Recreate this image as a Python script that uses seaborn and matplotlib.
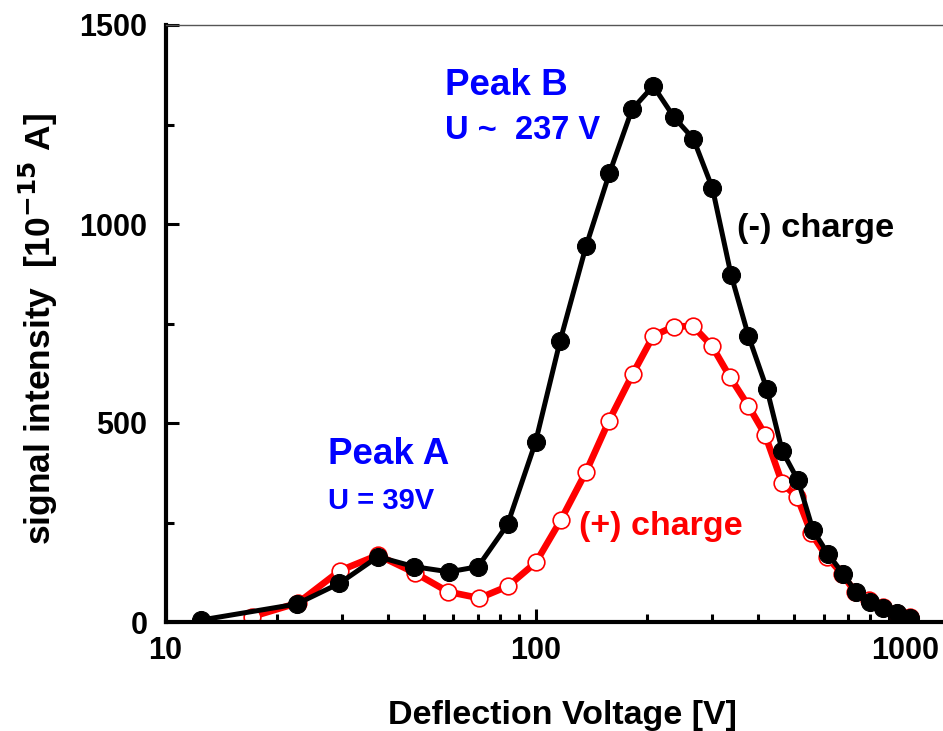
import numpy as np
import pandas as pd
import matplotlib
matplotlib.use("Agg")
import matplotlib.pyplot as plt
import seaborn as sns
from matplotlib.ticker import LogLocator, MultipleLocator, FixedLocator, FixedFormatter

# (-) charge, filled black dots
neg_voltage = [12.5, 22.6, 29.5, 37.5, 47, 58.4, 69.9, 84, 100, 116.5, 137, 158.3, 182.3, 208,
               236.8, 267, 300.6, 337.6, 376, 422, 464, 512, 562, 617, 678, 735, 802, 871, 948, 1025]
neg_signal = [5, 45, 97, 164, 139, 126, 139, 245, 452, 706, 945, 1127, 1288, 1347,
              1268, 1214, 1090, 872, 719, 585, 430, 356, 231, 171, 121, 75, 51, 34, 22, 9]

# (+) charge, open red circles
pos_voltage = [17.1, 22.8, 29.6, 37.5, 47.3, 58, 70.5, 84.2, 100.3, 117, 137, 158, 183, 208,
               236, 266, 300, 335, 376, 417, 464, 510, 556, 612, 674, 729, 794, 868, 947, 1030]
pos_signal = [13, 48, 129, 168, 123, 76, 60, 90, 150, 256, 378, 506, 623, 719,
              742, 744, 693, 616, 543, 471, 349, 313, 223, 164, 121, 76, 55, 38, 23, 13]

neg = pd.DataFrame({"Voltage": neg_voltage, "Signal": neg_signal})
pos = pd.DataFrame({"Voltage": pos_voltage, "Signal": pos_signal})

sns.set_theme(style="ticks")
plt.rcParams["font.family"] = ["Liberation Sans", "DejaVu Sans"]
plt.rcParams["font.weight"] = "bold"
plt.rcParams["text.color"] = "black"
plt.rcParams["axes.labelcolor"] = "black"
plt.rcParams["mathtext.default"] = "bf"

fig = plt.figure(figsize=(9.43, 7.31), dpi=100)
ax = fig.add_axes([165.5 / 943, 109 / 731, 1 - 165.5 / 943, 597 / 731])

sns.lineplot(data=pos, x="Voltage", y="Signal", ax=ax, color="red", lw=4.8,
             marker="o", ms=12, mfc="white", mec="red", mew=1.2, zorder=2)
sns.lineplot(data=neg, x="Voltage", y="Signal", ax=ax, color="black", lw=3.6,
             marker="o", ms=13, mfc="black", mec="black", zorder=3)

ax.set_xscale("log")
ax.set_xlim(10, 1262)
ax.set_ylim(0, 1500)

ax.xaxis.set_major_locator(FixedLocator([10, 100, 1000]))
ax.xaxis.set_major_formatter(FixedFormatter(["10", "100", "1000"]))
ax.xaxis.set_minor_locator(LogLocator(base=10, subs=np.arange(2, 10)))
ax.yaxis.set_major_locator(MultipleLocator(500))
ax.yaxis.set_minor_locator(MultipleLocator(250))

ax.tick_params(which="both", direction="in", top=False, right=False, width=2.2, colors="black")
ax.tick_params(which="major", length=9.5, labelsize=22)
ax.tick_params(which="minor", length=5.5)
ax.tick_params(axis="y", pad=13)
ax.tick_params(axis="x", pad=10)
for lab in ax.get_xticklabels() + ax.get_yticklabels():
    lab.set_fontweight("bold")

for s in ["left", "bottom"]:
    ax.spines[s].set_linewidth(3)
    ax.spines[s].set_color("black")
ax.spines["top"].set_linewidth(1)
ax.spines["top"].set_color("#555555")
ax.spines["right"].set_visible(False)

ax.set_xlabel("Deflection Voltage [V]", fontsize=24.5, fontweight="bold", color="black")
ax.set_ylabel("signal intensity  [10$^{\\mathbf{-15}}$ A]", fontsize=25.5, fontweight="bold", color="black")
ax.xaxis.set_label_coords(0.51, -0.13)
ax.yaxis.set_label_coords(-0.136, 0.49)

blue = "#0000ff"
ax.text(56.9, 1324, "Peak B", color=blue, fontsize=26.5, fontweight="bold", va="baseline")
ax.text(56.9, 1214, "U ~  237 V", color=blue, fontsize=23.5, fontweight="bold", va="baseline")
ax.text(27.5, 397, "Peak A", color=blue, fontsize=26.5, fontweight="bold", va="baseline")
ax.text(27.5, 284, "U = 39V", color=blue, fontsize=21, fontweight="bold", va="baseline")
ax.text(350.5, 967, "(-) charge", color="black", fontsize=24.8, fontweight="bold", va="baseline")
ax.text(131, 219, "(+) charge", color="red", fontsize=24.5, fontweight="bold", va="baseline")

ax.set_facecolor("white")
fig.savefig("out.png", dpi=100, facecolor="white")
